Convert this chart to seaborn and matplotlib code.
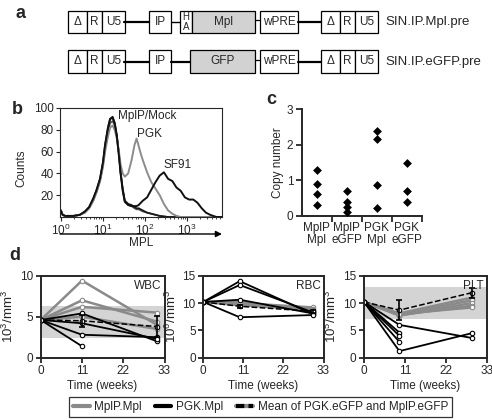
import numpy as np
import pandas as pd
import matplotlib
matplotlib.use("Agg")
import matplotlib.pyplot as plt
from matplotlib.lines import Line2D
from matplotlib.patches import Rectangle
import seaborn as sns

# ---- panel b: flow histograms (log10 of MPL intensity vs counts)
log_mpl = [0.00, 0.04, 0.10, 0.30, 0.45, 0.57, 0.67, 0.77, 0.85, 0.93,
           1.00, 1.05, 1.12, 1.17, 1.23, 1.28, 1.33, 1.38, 1.42, 1.47,
           1.52, 1.60, 1.68, 1.75, 1.80, 1.85, 1.90, 1.95, 2.05, 2.15,
           2.25, 2.35, 2.45, 2.55, 2.65, 2.75, 2.85, 2.95, 3.05, 3.15,
           3.25, 3.35, 3.45, 3.55, 3.70, 3.85]
counts_mock = [6, 2, 1, 1, 2, 5, 9, 17, 25, 35, 50, 66, 82, 90, 92, 86, 75, 58, 41, 26,
               15, 12, 11, 9, 8, 8, 7, 6, 4, 3, 2, 1, 0.5, 0, 0, 0, 0, 0, 0, 0,
               0, 0, 0, 0, 0, 0]
counts_mplp = [5, 2, 1, 1, 2, 4, 8, 15, 23, 33, 47, 62, 78, 86, 88, 84, 74, 57, 40, 25,
               14, 11, 10, 8, 7, 7, 6, 5, 4, 3, 2, 1, 0.5, 0, 0, 0, 0, 0, 0, 0,
               0, 0, 0, 0, 0, 0]
counts_pgk = [5, 2, 1, 1, 2, 4, 8, 15, 23, 33, 46, 60, 74, 82, 84, 80, 72, 60, 48, 40,
              37, 40, 52, 66, 72, 65, 58, 52, 41, 32, 26, 20, 12, 6, 3, 1, 0, 0, 0, 0,
              0, 0, 0, 0, 0, 0]
counts_sf91 = [6, 2, 1, 1, 2, 5, 9, 17, 25, 35, 50, 66, 82, 90, 91, 86, 74, 56, 40, 24,
               14, 11, 10, 10, 10, 11, 13, 15, 18, 25, 32, 38, 41, 35, 33, 27, 24, 18, 16, 16,
               13, 8, 4, 2, 0, 0]

# ---- panel c: vector copy number
copy_groups = ["MplP\nMpl"] * 4 + ["MplP\neGFP"] * 4 + ["PGK\nMpl"] * 4 + ["PGK\neGFP"] * 3
copy_values = [1.29, 0.90, 0.61, 0.31,
               0.70, 0.40, 0.24, 0.10,
               2.40, 2.17, 0.87, 0.22,
               1.50, 0.70, 0.40]

# ---- panel d: blood counts over time
wbc_time = [0, 11, 31]
wbc_mplp = [[4.6, 9.4, 4.0], [4.6, 7.0, 4.4], [4.6, 6.2, 5.5], [4.6, 5.0, 3.5]]
wbc_pgk = [[4.6, 5.4, 2.0], [4.6, 2.8, 2.5], [4.6, 1.4, np.nan], [4.6, 4.2, 2.3]]
wbc_mean = [4.6, 4.5, 3.8]
wbc_err = [0, 0.7, 1.3]
wbc_band = (2.4, 6.3)

rbc_time = [0, 10, 30]
rbc_mplp = [[10.2, 10.0, 9.2], [10.2, 9.8, 9.0], [10.2, 9.6, 8.8], [10.2, 10.2, 8.6]]
rbc_pgk = [[10.2, 14.0, 8.0], [10.2, 13.3, 8.3], [10.2, 10.6, 8.1], [10.2, 7.4, 7.8]]
rbc_mean = [10.2, 9.4, 8.5]
rbc_err = [0, 0.3, 0.3]
rbc_band = None

plt_time = [0, 9.5, 29]
plt_mplp = [[10.2, 8.1, 11.0], [10.2, 7.9, 10.5], [10.2, 7.7, 10.0], [10.2, 7.8, 9.5], [10.2, 8.0, 9.2]]
plt_pgk = [[10.2, 6.0, 3.6], [10.2, 4.6, np.nan], [10.2, 4.0, np.nan], [10.2, 2.9, np.nan], [10.2, 1.2, 4.5]]
plt_mean = [10.2, 8.7, 11.9]
plt_err = [0, 1.8, 0.9]
plt_band = (7.1, 12.9)

GRAY = "#8a8a8a"

sns.set_style("ticks")
plt.rcParams["font.family"] = ["Liberation Sans", "DejaVu Sans"]
plt.rcParams["font.size"] = 8.5
plt.rcParams["xtick.labelsize"] = 8.5
plt.rcParams["ytick.labelsize"] = 8.5

W, H = 492, 420
fig = plt.figure(figsize=(4.92, 4.2), dpi=100)


def rect(l, t, r, b):
    return [l / W, 1 - b / H, (r - l) / W, (b - t) / H]


# ---------- b
ax_b = fig.add_axes(rect(60, 108, 222, 217))
flow = pd.DataFrame({"mpl": 10 ** np.array(log_mpl), "MplP": counts_mplp,
                     "Mock": counts_mock, "PGK": counts_pgk, "SF91": counts_sf91})
for col, color, lw in [("MplP", "#555555", 1.2), ("Mock", "#1a1a1a", 1.3),
                       ("PGK", "#8c8c8c", 1.4), ("SF91", "#111111", 1.4)]:
    sns.lineplot(data=flow, x="mpl", y=col, ax=ax_b, color=color, lw=lw,
                 estimator=None, sort=False)
ax_b.set_xscale("log")
ax_b.set_xlim(0.95, 6800)
ax_b.set_ylim(0, 100)
ax_b.set_yticks([20, 40, 60, 80, 100])
ax_b.set_xticks([1, 10, 100, 1000])
ax_b.set_xlabel("")
ax_b.set_ylabel("Counts")
ax_b.yaxis.set_label_coords(-0.2, 0.45)
ax_b.tick_params(which="major", length=3, width=0.8, pad=1.5)
ax_b.tick_params(which="minor", length=1.5, width=0.6)
for s in ax_b.spines.values():
    s.set_linewidth(0.8)
ax_b.text(23, 93, "MplP/Mock", va="center", ha="left")
ax_b.text(65, 76, "PGK", va="center", ha="left")
ax_b.text(270, 48, "SF91", va="center", ha="left")

# ---------- c
ax_c = fig.add_axes(rect(301.7, 109.3, 421.7, 216))
copy_df = pd.DataFrame({"group": copy_groups, "copies": copy_values})
sns.stripplot(data=copy_df, x="group", y="copies", ax=ax_c, jitter=False,
              marker="D", color="black", size=4.5)
ax_c.set_xlim(-0.5, 3.5)
ax_c.set_ylim(0, 3)
ax_c.set_yticks([0, 1, 2, 3])
ax_c.set_xticks([0.5, 1.5, 2.5, 3.5], minor=True)
ax_c.tick_params(axis="x", which="major", length=0, pad=4)
ax_c.tick_params(axis="x", which="minor", length=4, width=1.3)
ax_c.tick_params(axis="y", length=4, width=1.3, pad=2)
ax_c.set_xlabel("")
ax_c.set_ylabel("Copy number")
ax_c.yaxis.set_label_coords(-0.15, 0.5)
for lab in ax_c.get_xticklabels():
    lab.set_linespacing(1.0)
sns.despine(ax=ax_c)
for s in ax_c.spines.values():
    s.set_linewidth(1.4)

# ---------- d
panels = [
    ("WBC", rect(40.7, 275.7, 164.5, 357.7), wbc_time, wbc_mplp, wbc_pgk, wbc_mean, wbc_err,
     wbc_band, (0, 10), [0, 5, 10], r"$\mathregular{10^3/mm^3}$"),
    ("RBC", rect(203.3, 275.7, 323.5, 357.7), rbc_time, rbc_mplp, rbc_pgk, rbc_mean, rbc_err,
     rbc_band, (0, 15), [0, 5, 10, 15], r"$\mathregular{10^6/mm^3}$"),
    ("PLT", rect(364, 275.7, 487, 357.7), plt_time, plt_mplp, plt_pgk, plt_mean, plt_err,
     plt_band, (0, 15), [0, 5, 10, 15], r"$\mathregular{10^5/mm^3}$"),
]
for name, pos, t, mplp, pgk, mean, err, band, ylim, yticks, ylab in panels:
    ax = fig.add_axes(pos)
    if band is not None:
        ax.axhspan(band[0], band[1], color="#d4d4d4", lw=0, zorder=0)
    for vals in mplp:
        sns.lineplot(x=t, y=vals, ax=ax, color=GRAY, lw=1.8, marker="o", markersize=3.2,
                     markerfacecolor="white", markeredgecolor=GRAY, markeredgewidth=0.8,
                     estimator=None, sort=False)
    for vals in pgk:
        sns.lineplot(x=t, y=vals, ax=ax, color="black", lw=1.3, marker="o", markersize=3.2,
                     markerfacecolor="white", markeredgecolor="black", markeredgewidth=0.8,
                     estimator=None, sort=False)
    sns.lineplot(x=t, y=mean, ax=ax, color="black", lw=1.1, ls="--", marker="o", markersize=3.2,
                 markerfacecolor="white", markeredgecolor="black", markeredgewidth=0.8,
                 estimator=None, sort=False)
    ax.errorbar(t[1:], mean[1:], yerr=err[1:], fmt="none", ecolor="black",
                elinewidth=1.2, capsize=2.5, capthick=1.2)
    ax.set_xlim(0, 33)
    ax.set_ylim(*ylim)
    ax.set_xticks([0, 11, 22, 33])
    ax.set_yticks(yticks)
    ax.set_xlabel("Time (weeks)", labelpad=2)
    ax.set_ylabel(ylab, fontsize=9.5)
    ax.yaxis.set_label_coords(-0.2, 0.5)
    ax.tick_params(length=3.5, width=1.3, pad=2)
    for s in ax.spines.values():
        s.set_linewidth(1.4)
    ax.text(0.975, 0.95, name, transform=ax.transAxes, ha="right", va="top")

# ---------- overlay: panel a diagram, letters, arrow
ov = fig.add_axes([0, 0, 1, 1])
ov.set_xlim(0, W)
ov.set_ylim(H, 0)
ov.axis("off")


def draw_box(x0, x1, y0, y1, label, fill="white", fs=8.5):
    ov.add_patch(Rectangle((x0, y0), x1 - x0, y1 - y0, facecolor=fill,
                           edgecolor="black", lw=0.9))
    if label:
        ov.text((x0 + x1) / 2, (y0 + y1) / 2, label, ha="center", va="center", fontsize=fs)


def draw_ltr(x0, y0, y1):
    draw_box(x0, x0 + 19, y0, y1, "\u0394")
    draw_box(x0 + 19, x0 + 34, y0, y1, "R")
    draw_box(x0 + 34, x0 + 57, y0, y1, "U5")


for y0, y1, gene, name in [(11, 33, "Mpl", "SIN.IP.Mpl.pre"), (50, 73, "GFP", "SIN.IP.eGFP.pre")]:
    ym = (y0 + y1) / 2
    ov.plot([124, 149], [ym, ym], color="black", lw=1.6)
    ov.plot([298, 321], [ym, ym], color="black", lw=1.6)
    ov.plot([255, 260], [ym - 2, ym - 2], color="black", lw=0.9)
    draw_ltr(68, y0, y1)
    draw_box(149, 171, y0, y1, "IP")
    if gene == "Mpl":
        ov.plot([171, 180], [ym, ym], color="black", lw=1.0)
        draw_box(180, 192, y0, y1, "")
        ov.text(186, y0 + 6, "H", ha="center", va="center", fontsize=7)
        ov.text(186, y1 - 6, "A", ha="center", va="center", fontsize=7)
        draw_box(192, 255, y0, y1, "Mpl", fill="#d2d2d2")
    else:
        ov.plot([171, 190], [ym, ym], color="black", lw=1.6)
        draw_box(190, 255, y0, y1, "GFP", fill="#d2d2d2")
    draw_box(260, 298, y0, y1, "wPRE")
    draw_ltr(321, y0, y1)
    ov.text(385, ym, name, ha="left", va="center", fontsize=9.5)

for letter, x, y in [("a", 20, 13), ("b", 17, 109), ("c", 271, 99), ("d", 15, 255)]:
    ov.text(x, y, letter, ha="center", va="center", fontsize=13, fontweight="bold")

ov.annotate("", xy=(222, 234), xytext=(60, 234),
            arrowprops=dict(arrowstyle="-|>", color="black", lw=1.0,
                            mutation_scale=9, shrinkA=0, shrinkB=0))
ov.text(141, 237, "MPL", ha="center", va="top")

# ---------- legend
h_mplp = Line2D([], [], color=GRAY, lw=3)
h_pgk = Line2D([], [], color="black", lw=3)
h_bg = Line2D([], [], color=GRAY, lw=3)
h_mean = Line2D([], [], color="black", lw=3, ls=(0, (2, 1)))
leg = fig.legend([h_mplp, h_pgk, (h_bg, h_mean)],
                 ["MplP.Mpl", "PGK.Mpl", "Mean of PGK.eGFP and MplP.eGFP"],
                 loc="center", bbox_to_anchor=(260.5 / W, 1 - 407 / H), ncol=3,
                 frameon=True, fancybox=False, edgecolor="black", fontsize=8.5,
                 handlelength=1.4, handletextpad=0.4, columnspacing=1.1,
                 borderpad=0.3)
leg.get_frame().set_linewidth(0.9)

fig.savefig("out.png", dpi=100)
